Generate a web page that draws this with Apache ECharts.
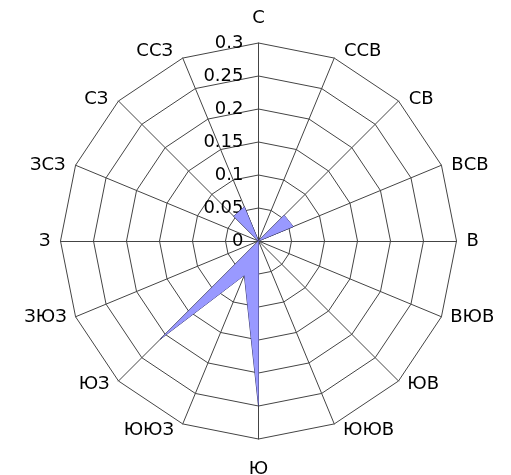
<!DOCTYPE html>
<html>
<head>
<meta charset="utf-8">
<script src="https://cdn.jsdelivr.net/npm/echarts@6/dist/echarts.min.js"></script>
<style>
html,body{margin:0;padding:0;background:#fff;}
#chart{width:511px;height:475px;}
</style>
</head>
<body>
<div id="chart"></div>
<script>
// Directions, counterclockwise starting from north (ECharts radar order)
const directions = ['С','ССЗ','СЗ','ЗСЗ','З','ЗЮЗ','ЮЗ','ЮЮЗ','Ю','ЮЮВ','ЮВ','ВЮВ','В','ВСВ','СВ','ССВ'];
const values = [0, 0.056, 0.053, 0, 0, 0, 0.21, 0.056, 0.25, 0, 0, 0, 0, 0.057, 0.055, 0];
const tickValues = [0, 0.05, 0.1, 0.15, 0.2, 0.25, 0.3];
const tickLabels = ['0', '0.05', '0.1', '0.15', '0.2', '0.25', '0.3'];

const FONT = 'DejaVu Sans';
const chart = echarts.init(document.getElementById('chart'), null, {renderer: 'canvas'});

function labelFor(v) {
  let best = 0, bd = Infinity;
  tickValues.forEach((t, i) => { const d = Math.abs(t - v); if (d < bd) { bd = d; best = i; } });
  return tickLabels[best];
}

// label placement style per position index around the circle (0 = north, counterclockwise)
// [nameGap, horizontal padding]
const place = [
  [25, 0], [7, 7], [3, 8], [1, 9], [10, 0], [2, 7], [4, 6], [7, 6],
  [30, 0], [7, 6], [4, 6], [2, 7], [10, 0], [1, 9], [3, 8], [7, 7]
];

const indicator = directions.map((name, i) => {
  const ang = Math.PI / 2 + i * 2 * Math.PI / directions.length;
  const cx = Math.cos(ang);
  const align = Math.abs(cx) < 0.01 ? 'center' : (cx > 0 ? 'left' : 'right');
  const pad = place[i][1];
  const o = {
    name: name, min: 0, max: 0.3,
    nameGap: place[i][0],
    nameTextStyle: {
      align: align,
      verticalAlign: 'middle',
      padding: align === 'left' ? [0, 0, 0, pad] : (align === 'right' ? [0, pad, 0, 0] : 0)
    }
  };
  if (i === 0) o.axisLabel = {show: true};
  return o;
});

chart.setOption({
  animation: false,
  radar: {
    center: [258.5, 241],
    radius: 198,
    startAngle: 90,
    shape: 'polygon',
    splitNumber: 6,
    indicator: indicator,
    nameGap: 11,
    axisName: {color: '#000', fontFamily: FONT, fontSize: 18},
    axisLine: {lineStyle: {color: '#444', width: 1}},
    splitLine: {lineStyle: {color: '#444', width: 1}},
    splitArea: {show: false},
    axisTick: {show: false},
    axisLabel: {
      show: false,
      color: '#000',
      fontFamily: FONT,
      fontSize: 18,
      margin: 15,
      formatter: v => labelFor(v)
    }
  },
  series: [{
    type: 'radar',
    symbol: 'none',
    lineStyle: {color: '#333366', width: 1},
    areaStyle: {color: '#9999ff', opacity: 1},
    data: [{value: values}]
  }]
});
</script>
</body>
</html>
